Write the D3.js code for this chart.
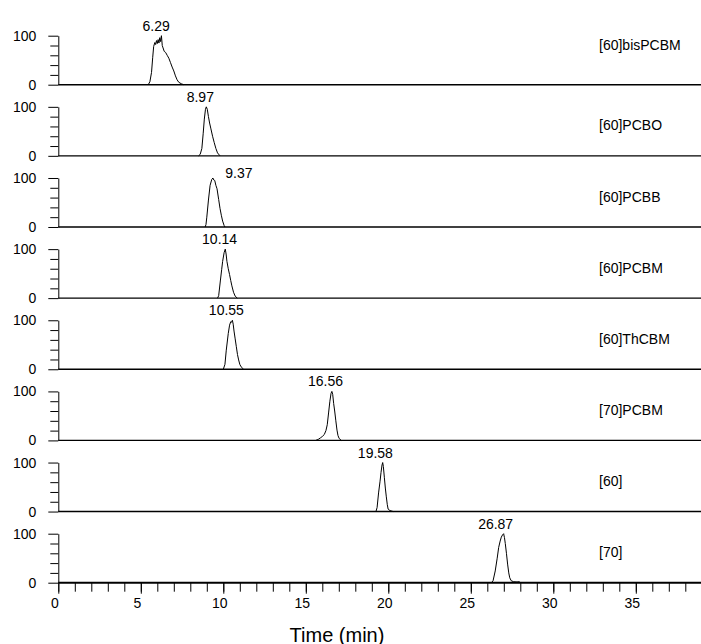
<!DOCTYPE html>
<html>
<head>
<meta charset="utf-8">
<script src="https://cdn.jsdelivr.net/npm/d3@7"></script>
<style>
  html, body { margin: 0; padding: 0; background: #fff; }
  svg { display: block; font-family: "Liberation Sans", Arial, sans-serif; }
</style>
</head>
<body>
<svg id="chart" width="701" height="644"></svg>
<script>
// ---- data ----
const compounds = ["[60]bisPCBM", "[60]PCBO", "[60]PCBB", "[60]PCBM", "[60]ThCBM", "[70]PCBM", "[60]", "[70]"];
const retentionTimes = [6.29, 8.97, 9.37, 10.14, 10.55, 16.56, 19.58, 26.87];
const xMajorTicks = [0, 5, 10, 15, 20, 25, 30, 35];
const yMajorTicks = [0, 100];
const yMinorTicks = [20, 40, 60, 80];
const xLabel = "Time (min)";

// [time (min), relative intensity (%)]
const peakBisPCBM = [[5.45,0],[5.55,6],[5.65,25],[5.72,55],[5.78,78],[5.85,86],[5.9,82],[5.95,90],[6.0,84],[6.05,92],[6.1,85],[6.15,96],[6.2,88],[6.25,100],[6.3,80],[6.35,75],[6.42,68],[6.5,66],[6.6,60],[6.7,54],[6.8,45],[6.9,36],[7.0,28],[7.1,18],[7.2,10],[7.3,5],[7.45,2],[7.6,0]];
const peakPCBO = [[8.5,0],[8.6,3],[8.7,15],[8.78,45],[8.85,75],[8.92,95],[8.97,100],[9.03,95],[9.1,80],[9.17,67],[9.25,55],[9.35,40],[9.45,27],[9.55,15],[9.65,6],[9.8,0]];
const peakPCBB = [[8.9,0],[8.95,5],[9.0,20],[9.1,55],[9.2,85],[9.3,97],[9.37,100],[9.42,96],[9.48,95],[9.55,85],[9.62,78],[9.72,56],[9.8,38],[9.88,24],[9.96,12],[10.05,3],[10.1,0]];
const peakPCBM = [[9.65,0],[9.72,5],[9.82,35],[9.9,58],[9.96,75],[10.05,93],[10.12,100],[10.17,90],[10.22,75],[10.3,60],[10.38,48],[10.45,36],[10.52,25],[10.62,12],[10.72,4],[10.85,0]];
const peakThCBM = [[10.0,0],[10.1,10],[10.18,39],[10.3,73],[10.38,90],[10.45,97],[10.5,96],[10.55,100],[10.6,92],[10.65,78],[10.72,62],[10.79,46],[10.86,30],[10.93,19],[11.0,10],[11.08,5],[11.23,0]];
const peakC70PCBM = [[15.6,0],[15.75,2],[15.88,5],[16.0,8],[16.12,12],[16.22,20],[16.3,32],[16.38,56],[16.46,80],[16.53,96],[16.58,100],[16.63,94],[16.69,75],[16.75,60],[16.82,40],[16.89,21],[16.95,10],[17.02,4],[17.15,0]];
const peakC60 = [[19.25,0],[19.32,8],[19.41,38],[19.5,62],[19.56,80],[19.62,95],[19.66,100],[19.7,92],[19.76,70],[19.82,48],[19.88,30],[19.94,14],[19.99,5],[20.1,2],[20.3,0]];
const peakC70 = [[26.25,0],[26.35,4],[26.48,24],[26.6,50],[26.69,72],[26.78,85],[26.85,93],[26.93,98],[26.99,100],[27.04,92],[27.09,80],[27.16,60],[27.23,38],[27.3,20],[27.36,10],[27.45,4],[27.6,2],[27.8,1.5],[27.95,2],[28.0,0]];
const peaks = [peakBisPCBM, peakPCBO, peakPCBB, peakPCBM, peakThCBM, peakC70PCBM, peakC60, peakC70];

// ---- layout ----
const W = 701, H = 644;
const svg = d3.select("#chart");
const x = d3.scaleLinear().domain([0, 39]).range([58.3, 58.3 + 39 * 16.5]);
const base = d3.scalePoint().domain(compounds).range([84.7, 582.7]);
const panelH = 49;
const fontSize = 14;

compounds.forEach((name, i) => {
  const b = base(name);
  const y = d3.scaleLinear().domain([0, 100]).range([b, b - panelH]);
  const g = svg.append("g");
  const isLast = i === compounds.length - 1;

  // baseline
  g.append("line")
    .attr("x1", x(0)).attr("x2", W)
    .attr("y1", b).attr("y2", b)
    .attr("stroke", "#000").attr("stroke-width", isLast ? 2 : 1.4);

  // y axis (minor)
  const yMinor = g.append("g").attr("transform", `translate(${x(0)},0)`)
    .call(d3.axisLeft(y).tickValues(yMinorTicks).tickSize(8).tickFormat(""));
  yMinor.select(".domain").remove();
  // y axis (major)
  const yMaj = g.append("g").attr("transform", `translate(${x(0)},0)`)
    .call(d3.axisLeft(y).tickValues(yMajorTicks).tickSizeInner(10).tickSizeOuter(0).tickPadding(12));
  yMaj.selectAll("text").attr("font-size", fontSize).attr("font-family", "Liberation Sans, Arial, sans-serif").attr("fill", "#000");
  yMaj.selectAll("line, path").attr("stroke", "#000");

  // trace
  const line = d3.line().x(d => x(d[0])).y(d => y(d[1]));
  g.append("path").datum(peaks[i])
    .attr("d", line).attr("fill", "none")
    .attr("stroke", "#000").attr("stroke-width", 1).attr("stroke-linejoin", "round");

  // peak label
  const rt = retentionTimes[i];
  const special = (i === 2);
  g.append("text")
    .attr("x", x(rt) + (special ? 26 : -6))
    .attr("y", y(100) - (special ? 0 : 5))
    .attr("text-anchor", "middle")
    .attr("font-size", fontSize)
    .text(rt.toFixed(2));

  // compound label
  g.append("text")
    .attr("x", 599)
    .attr("y", i === 0 ? y(71) : y(52))
    .attr("font-size", fontSize)
    .text(name);

  if (isLast) {
    const xMinor = g.append("g").attr("transform", `translate(0,${b})`)
      .call(d3.axisBottom(x).tickValues(d3.range(0, 39, 1)).tickSize(9).tickFormat(""));
    xMinor.select(".domain").remove();
    xMinor.selectAll("line").attr("stroke", "#000");
    const xMaj = g.append("g").attr("transform", `translate(0,${b})`)
      .call(d3.axisBottom(x).tickValues(xMajorTicks).tickSize(11).tickPadding(4));
    xMaj.select(".domain").remove();
    xMaj.selectAll("line").attr("stroke", "#000");
    xMaj.selectAll("text").attr("font-size", fontSize).attr("font-family", "Liberation Sans, Arial, sans-serif").attr("fill", "#000").attr("dx", -4);
  }
});

svg.append("text")
  .attr("x", 337).attr("y", 641.5)
  .attr("text-anchor", "middle")
  .attr("font-size", 20)
  .text(xLabel);
</script>
</body>
</html>
